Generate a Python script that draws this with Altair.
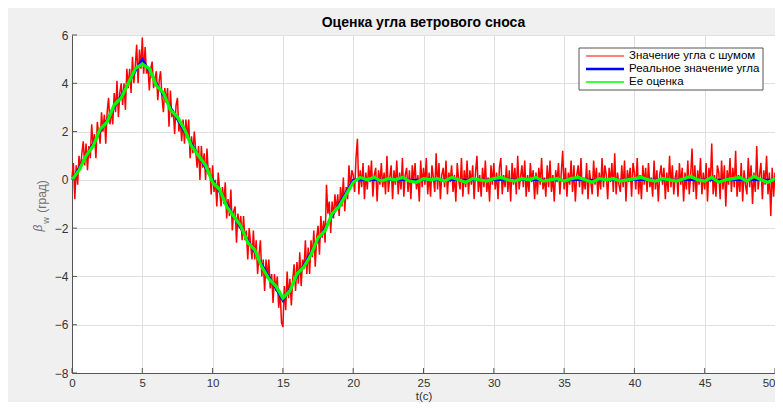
import altair as alt
import numpy as np
import pandas as pd

TITLE = "Оценка угла ветрового сноса"
X_TITLE = "t(c)"
Y_TITLE_PARTS = ["β", "w", "(град)"]
SERIES = ["Значение угла с шумом", "Реальное значение угла", "Ее оценка"]
COLORS = ["#ff0000", "#0000ff", "#00ff00"]
WIDTHS = [1.5, 3.2, 1.1]
LEGEND_WIDTHS = [1.0, 2.5, 1.5]
X_TICKS = [0, 5, 10, 15, 20, 25, 30, 35, 40, 45, 50]
Y_TICKS = [-8, -6, -4, -2, 0, 2, 4, 6]

# noisy measured angle, sampled every 0.1 s (one row per second)
NOISY = [
    0.1, 0.7, -0.8, 0.6, -0.2, 1.0, 0.4, 1.1, 1.6, 0.6,
    1.5, 0.4, 1.4, 0.9, 2.3, 1.4, 1.9, 0.9, 2.4, 1.9,
    1.5, 2.8, 2.0, 2.7, 1.5, 2.8, 3.4, 2.3, 2.9, 2.3,
    3.6, 2.8, 4.1, 2.6, 3.6, 4.0, 3.1, 4.0, 2.9, 4.6,
    3.8, 4.6, 3.6, 5.1, 4.0, 4.7, 5.6, 4.0, 5.4, 4.6,
    5.9, 4.4, 5.5, 4.4, 4.7, 3.7, 4.6, 4.9, 3.8, 4.2,
    4.5, 3.3, 4.1, 4.5, 3.4, 2.8, 3.8, 3.2, 3.8, 2.2,
    3.7, 2.6, 2.9, 1.9, 3.1, 3.4, 2.0, 2.5, 1.6, 2.5,
    1.5, 2.5, 1.7, 2.5, 0.9, 1.8, 1.1, 2.0, 1.2, 0.5,
    1.4, 0.0, 1.4, 0.5, 1.1, 0.0, 1.3, 0.2, 0.5, -0.6,
    0.6, -0.5, 0.0, -1.1, 0.3, -0.4, -1.1, -0.3, -1.0, -0.1,
    -1.6, -0.8, -1.5, -0.4, -2.1, -1.3, -1.1, -2.6, -1.4, -2.0,
    -1.5, -2.5, -1.5, -2.5, -2.1, -3.3, -2.0, -2.6, -3.3, -2.1,
    -3.3, -2.5, -3.9, -3.1, -2.5, -4.0, -3.3, -4.6, -3.3, -4.1,
    -3.3, -4.5, -3.9, -5.1, -3.9, -4.6, -4.0, -5.3, -4.6, -5.9,
    -6.1, -4.4, -5.4, -3.8, -4.9, -4.1, -5.2, -4.1, -3.5, -4.6,
    -3.4, -4.3, -3.0, -4.4, -3.3, -3.7, -2.5, -3.9, -2.8, -3.9,
    -2.5, -3.2, -2.1, -3.6, -2.4, -1.9, -3.1, -1.5, -2.4, -1.7,
    -2.6, -0.2, -1.4, -0.9, -2.2, -0.9, -1.6, -0.6, -1.3, -0.6,
    -1.5, -0.3, -1.1, 0.1, -1.3, -0.3, -0.8, 0.6, -0.4, 0.4,
    0.2, -0.5, 0.9, 1.7, -0.6, 0.4, -0.3, 0.7, -0.8, 0.3,
    -0.4, 0.6, -0.1, 0.8, -0.7, 0.2, 0.5, -0.9, 0.4, -0.2,
    0.7, -0.3, 0.3, -0.6, 1.0, -0.5, 0.1, 0.6, -0.8, 0.4,
    -0.2, 0.8, -0.6, 0.3, -0.4, 0.9, -0.7, 0.2, 0.5, -0.5,
    0.4, -0.8, 0.6, -0.1, 0.7, -0.4, 0.2, -0.9, 0.8, -0.3,
    0.5, -0.2, 0.9, -0.6, 0.3, -0.7, 0.6, 0.1, -0.5, 1.1,
    -0.4, 0.7, -0.8, 0.2, 0.5, -0.3, 0.8, -0.6, 0.3, -0.1,
    0.6, -0.5, 0.2, -0.9, 0.7, 0.0, -0.4, 0.9, -0.7, 0.4,
    -0.3, 0.8, -0.6, 0.4, -0.2, 0.6, -0.8, 0.3, 1.0, -0.5,
    0.2, -0.7, 0.5, -0.3, 0.8, -0.5, 0.1, -0.9, 0.6, -0.2,
    0.7, -0.4, 0.3, -0.8, 0.5, 0.9, -0.6, 0.2, -0.3, 0.6,
    -0.5, 0.4, -0.9, 0.7, -0.2, 0.5, -0.6, 1.0, -0.4, 0.1,
    0.6, -0.3, 0.8, -0.7, 0.2, -0.5, 0.7, -0.1, 0.4, -0.8,
    0.3, -0.6, 0.5, -0.2, 0.9, -0.4, 0.1, -0.7, 0.6, -0.3,
    0.8, -0.5, 0.2, -0.9, 0.4, -0.1, 0.7, -0.6, 0.3, 1.2,
    -0.4, 0.5, -0.7, 0.3, -0.2, 0.8, -0.5, 0.6, -0.9, 0.2,
    0.6, -0.3, 0.9, -0.6, 0.1, -0.4, 0.7, -0.8, 0.4, -0.1,
    -0.6, 0.8, -0.2, 0.5, -0.7, 0.3, -0.4, 0.9, -0.3, 0.6,
    0.2, -0.8, 0.5, -0.1, 0.7, -0.5, 1.1, -0.6, 0.3, -0.2,
    -0.5, 0.6, -0.3, 0.8, -0.9, 0.4, -0.1, 0.5, -0.7, 0.7,
    0.3, -0.4, 0.9, -0.6, 0.2, -0.8, 0.6, -0.2, 0.5, -0.5,
    0.7, -0.3, 0.1, -0.7, 0.8, -0.4, 0.4, -0.9, 0.2, 0.6,
    -0.2, 0.5, -0.8, 0.3, -0.5, 1.0, -0.3, 0.6, -0.6, 0.1,
    0.4, -0.7, 0.7, -0.2, 0.5, -0.9, 0.3, -0.4, 0.8, -0.6,
    0.2, 1.3, -0.5, 0.6, -0.8, 0.4, -0.2, 0.9, -0.6, 0.3,
    -0.4, 0.7, -0.9, 0.5, -0.1, 1.5, -0.6, 0.2, -0.7, 0.6,
    0.3, -0.8, 0.8, -0.4, 0.6, -1.1, 0.4, -0.2, 0.9, -0.5,
    0.5, -0.3, 1.2, -0.7, 0.2, -0.5, 0.7, -0.9, 0.4, -0.2,
    -0.6, 0.9, -0.3, 0.6, -1.0, 0.3, -0.5, 1.4, -0.4, 0.2,
    0.7, -0.8, 0.4, -0.2, 1.0, -0.6, 0.3, -1.5, 0.5, -0.7,
    0.3,
]
NOISY_T = [round(i * 0.1, 1) for i in range(len(NOISY))]

# true angle: break points
REAL_T = [0, 5, 15, 20, 50]
REAL_V = [0, 5, -5, 0, 0]

# Kalman estimate, every 0.5 s
EST = [
    0.0, 0.4, 1.0, 1.4, 2.1, 2.4, 3.1, 3.4, 4.0, 4.6,
    4.8, 4.6, 3.9, 3.6, 2.9, 2.6, 2.1, 1.4, 1.0, 0.6,
    -0.1, -0.4, -1.1, -1.5, -1.9, -2.6, -2.9, -3.6, -4.1, -4.4,
    -4.9, -4.6, -3.9, -3.6, -3.1, -2.4, -2.1, -1.4, -1.1, -0.6,
    -0.1, 0.1, 0.0, 0.1, -0.05, 0.05, 0.0, 0.1, -0.05, -0.1,
    0.05, 0.0, 0.05, -0.05, 0.1, 0.0, -0.1, 0.05, 0.0, -0.05,
    0.05, 0.1, 0.0, -0.05, 0.05, 0.0, 0.1, -0.05, 0.0, 0.05,
    -0.05, 0.05, 0.1, 0.0, -0.1, 0.05, 0.0, 0.05, -0.05, 0.0,
    0.05, 0.1, 0.0, -0.05, 0.05, 0.0, -0.05, 0.05, 0.15, 0.0,
    -0.05, 0.1, -0.1, 0.0, 0.05, 0.1, -0.05, 0.15, 0.0, -0.1,
    0.05,
]
EST_T = [i * 0.5 for i in range(len(EST))]

W, H = 703, 338
FONT = "Liberation Sans"

df_noisy = pd.DataFrame({"t": NOISY_T, "b": NOISY, "series": SERIES[0]})
df_real = pd.DataFrame({"t": REAL_T, "b": REAL_V, "series": SERIES[1]})
df_est = pd.DataFrame({"t": EST_T, "b": EST, "series": SERIES[2]})

x_enc = alt.X(
    "t:Q", scale=alt.Scale(domain=[0, 50], nice=False, zero=False),
    axis=alt.Axis(values=X_TICKS, title=X_TITLE, labelFlush=False, labelOverlap=False,
                  labelPadding=4, titlePadding=2, labelFontSize=11.5, titleFontSize=11.5,
                  labelAlign={"condition": {"test": "datum.value == 50", "value": "right"},
                              "value": "center"}),
)
y_enc = alt.Y(
    "b:Q", scale=alt.Scale(domain=[-8, 6], nice=False, zero=False),
    axis=alt.Axis(values=Y_TICKS, title=None, labelPadding=4, labelOverlap=False, labelFlush=False),
)
color = alt.Color("series:N", scale=alt.Scale(domain=SERIES, range=COLORS), legend=None)
swidth = alt.StrokeWidth("series:N", scale=alt.Scale(domain=SERIES, range=WIDTHS), legend=None)


def line(df):
    return alt.Chart(df).mark_line().encode(x=x_enc, y=y_enc, color=color, strokeWidth=swidth)


tick_x = alt.Chart(pd.DataFrame({"t": X_TICKS})).mark_rule(color="#555555").encode(
    x=alt.X("t:Q", title=X_TITLE), y=alt.value(H), y2=alt.value(H - 5))
tick_y = alt.Chart(pd.DataFrame({"b": Y_TICKS})).mark_rule(color="#555555").encode(
    y=alt.Y("b:Q", title=None), x=alt.value(0), x2=alt.value(5))

title_mark = alt.Chart(pd.DataFrame({"s": [TITLE]})).mark_text(
    font=FONT, fontSize=14, fontWeight="bold", color="black", align="center", baseline="alphabetic"
).encode(text="s:N", x=alt.value(W / 2), y=alt.value(-8))

ylab1 = alt.Chart(pd.DataFrame({"s": [Y_TITLE_PARTS[0]]})).mark_text(
    font=FONT, fontSize=12, fontStyle="italic", color="#707070", angle=270,
    align="center", baseline="middle"
).encode(text="s:N", x=alt.value(-34.5), y=alt.value(193))
ylab2 = alt.Chart(pd.DataFrame({"s": [Y_TITLE_PARTS[1]]})).mark_text(
    font=FONT, fontSize=9, color="#707070", angle=270, align="center", baseline="middle"
).encode(text="s:N", x=alt.value(-26.5), y=alt.value(185.5))
ylab3 = alt.Chart(pd.DataFrame({"s": [Y_TITLE_PARTS[2]]})).mark_text(
    font=FONT, fontSize=12, color="#707070", angle=270, align="center", baseline="middle"
).encode(text="s:N", x=alt.value(-30.5), y=alt.value(161.5))

# legend box drawn by hand (rows of 13 px, like the reference)
legend_layers = [
    alt.Chart(pd.DataFrame({"s": [0]})).mark_rect(
        fill="white", stroke="#555555", strokeWidth=1
    ).encode(x=alt.value(507), x2=alt.value(691), y=alt.value(13), y2=alt.value(55))
]
for i, (name, col, lw) in enumerate(zip(SERIES, COLORS, LEGEND_WIDTHS)):
    yy = 21 + 13 * i
    src = pd.DataFrame({"s": [name]})
    legend_layers.append(
        alt.Chart(src).mark_rule(color=col, strokeWidth=lw).encode(
            x=alt.value(514), x2=alt.value(552), y=alt.value(yy))
    )
    legend_layers.append(
        alt.Chart(src).mark_text(
            font=FONT, fontSize=11.5, color="black", align="left", baseline="middle"
        ).encode(text="s:N", x=alt.value(557), y=alt.value(yy))
    )

chart = alt.layer(
    line(df_noisy), line(df_real), line(df_est), tick_x, tick_y,
    title_mark, ylab1, ylab2, ylab3, *legend_layers,
).properties(
    width=W, height=H,
    autosize=alt.AutoSizeParams(type="none"),
    padding={"left": 64, "top": 27, "right": 0, "bottom": 29},
    background="#f0f0f0",
).configure_view(
    stroke="#d4d4d4", fill="white"
).configure_axis(
    labelFont=FONT, labelFontSize=12, labelColor="#333333", ticks=False,
    domainColor="#555555", domainWidth=1, gridColor="#e0e0e0", gridWidth=1,
    titleFont=FONT, titleFontSize=12, titleFontWeight="normal", titleColor="#333333",
)

chart.save("out.html", embed_options={"renderer": "svg", "actions": False})
